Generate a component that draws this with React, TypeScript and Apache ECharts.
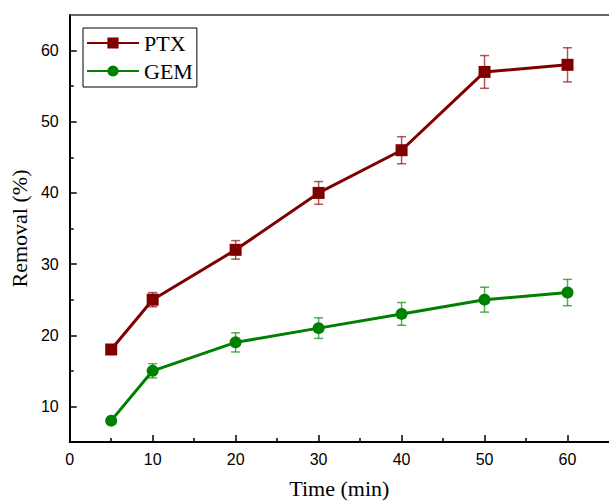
import React, { useEffect, useRef } from "react";
import * as echarts from "echarts";

const times = [5, 10, 20, 30, 40, 50, 60];
const ptx = [18, 25, 32, 40, 46, 57, 58];
const ptxErr = [0.5, 1.0, 1.3, 1.6, 1.9, 2.3, 2.4];
const gem = [8, 15, 19, 21, 23, 25, 26];
const gemErr = [0.4, 1.0, 1.35, 1.45, 1.6, 1.75, 1.85];
const xTicks = [0, 10, 20, 30, 40, 50, 60];
const xMinor = [5, 15, 25, 35, 45, 55];
const yTicks = [10, 20, 30, 40, 50, 60];
const yMinor = [15, 25, 35, 45, 55];

const PTX_COLOR = "#800000";
const GEM_COLOR = "#008000";
const SANS = "'Liberation Sans', Arial, sans-serif";
const SERIF = "'Liberation Serif', 'Times New Roman', serif";

function errorSeries(name: string, vals: number[], errs: number[], color: string) {
  return {
    type: "custom",
    name,
    xAxisIndex: 0,
    yAxisIndex: 0,
    z: 1,
    data: times.map((t, i) => [t, vals[i] - errs[i], vals[i] + errs[i]]),
    renderItem: (params: any, api: any) => {
      const x = api.value(0);
      const lo = api.value(1);
      const hi = api.value(2);
      const p1 = api.coord([x, hi]);
      const p2 = api.coord([x, lo]);
      const w = 4.5;
      const style = { stroke: color, lineWidth: 1.5, opacity: 0.65 };
      return {
        type: "group",
        children: [
          { type: "line", shape: { x1: p1[0], y1: p1[1], x2: p2[0], y2: p2[1] }, style },
          { type: "line", shape: { x1: p1[0] - w, y1: p1[1], x2: p1[0] + w, y2: p1[1] }, style },
          { type: "line", shape: { x1: p2[0] - w, y1: p2[1], x2: p2[0] + w, y2: p2[1] }, style },
        ],
      };
    },
  };
}

export default function App() {
  const ref = useRef<HTMLDivElement>(null);
  useEffect(() => {
    if (!ref.current) return;
    const chart = echarts.init(ref.current, null, { renderer: "svg" });
    const axisBase = {
      type: "value",
      splitLine: { show: false },
    };
    chart.setOption({
      animation: false,
      backgroundColor: "#ffffff",
      grid: { left: 66, right: 0, top: 15, bottom: 52, containLabel: false },
      legend: {
        data: ["PTX", "GEM"],
        orient: "vertical",
        left: 83,
        top: 28,
        padding: [3, 4, 4, 3],
        itemGap: 4,
        itemWidth: 52,
        itemHeight: 14,
        borderColor: "#000",
        borderWidth: 1,
        textStyle: { fontFamily: SERIF, fontSize: 22, color: "#000", lineHeight: 24 },
      },
      xAxis: [
        {
          ...axisBase,
          min: 0,
          max: 65,
          position: "bottom",
          name: "Time (min)",
          nameLocation: "middle",
          nameGap: 35,
          nameTextStyle: { fontFamily: SERIF, fontSize: 22, color: "#000" },
          axisLine: { show: true, lineStyle: { color: "#000", width: 2 } },
          axisTick: { show: true, inside: true, length: 7, lineStyle: { color: "#000", width: 1.5 }, customValues: xTicks },
          axisLabel: { show: true, customValues: xTicks, fontFamily: SANS, fontSize: 16, color: "#000", margin: 9 },
        },
        {
          ...axisBase,
          min: 0,
          max: 65,
          position: "bottom",
          axisLine: { show: false },
          axisTick: { show: true, inside: true, length: 4, lineStyle: { color: "#000", width: 1.5 }, customValues: xMinor },
          axisLabel: { show: false },
        },
        {
          ...axisBase,
          min: 0,
          max: 65,
          position: "top",
          axisLine: { show: true, lineStyle: { color: "#333", width: 1.5 } },
          axisTick: { show: false },
          axisLabel: { show: false },
        },
      ],
      yAxis: [
        {
          ...axisBase,
          min: 5,
          max: 65,
          position: "left",
          name: "Removal (%)",
          nameLocation: "middle",
          nameGap: 38,
          nameTextStyle: { fontFamily: SERIF, fontSize: 22, color: "#000" },
          axisLine: { show: true, lineStyle: { color: "#000", width: 2 } },
          axisTick: { show: true, inside: true, length: 7, lineStyle: { color: "#000", width: 1.5 }, customValues: yTicks },
          axisLabel: { show: true, customValues: yTicks, fontFamily: SANS, fontSize: 16, color: "#000", margin: 11 },
        },
        {
          ...axisBase,
          min: 5,
          max: 65,
          position: "left",
          axisLine: { show: false },
          axisTick: { show: true, inside: true, length: 4, lineStyle: { color: "#000", width: 1.5 }, customValues: yMinor },
          axisLabel: { show: false },
        },
      ],
      series: [
        errorSeries("PTX err", ptx, ptxErr, PTX_COLOR),
        errorSeries("GEM err", gem, gemErr, GEM_COLOR),
        {
          type: "line",
          name: "PTX",
          xAxisIndex: 0,
          yAxisIndex: 0,
          z: 3,
          data: times.map((t, i) => [t, ptx[i]]),
          symbol: "rect",
          symbolSize: 12,
          itemStyle: { color: PTX_COLOR },
          lineStyle: { color: PTX_COLOR, width: 3 },
        },
        {
          type: "line",
          name: "GEM",
          xAxisIndex: 0,
          yAxisIndex: 0,
          z: 3,
          data: times.map((t, i) => [t, gem[i]]),
          symbol: "circle",
          symbolSize: 12,
          itemStyle: { color: GEM_COLOR },
          lineStyle: { color: GEM_COLOR, width: 3 },
        },
      ],
    });
    return () => chart.dispose();
  }, []);
  return (
    <div
      ref={ref}
      style={{ position: "fixed", left: 0, top: 0, width: 609, height: 504, background: "#fff" }}
    />
  );
}
